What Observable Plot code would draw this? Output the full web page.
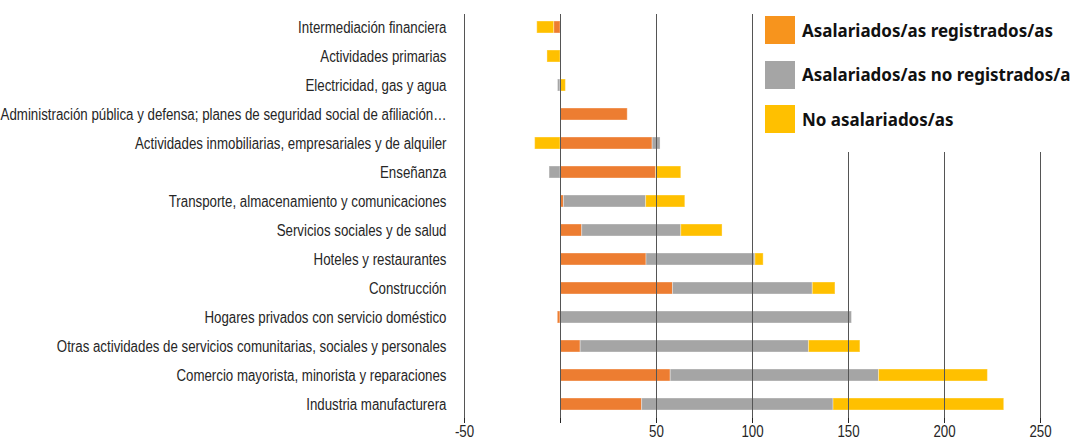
<!DOCTYPE html>
<html>
<head>
<meta charset="utf-8">
<script src="https://cdn.jsdelivr.net/npm/d3@7"></script>
<script src="https://cdn.jsdelivr.net/npm/@observablehq/plot@0.6"></script>
<style>
  html, body { margin: 0; padding: 0; background: #fff; overflow: hidden; }
  #wrap { position: relative; width: 1071px; height: 441px; }
  #legend { position: absolute; left: 755px; top: 0; width: 316px; height: 152px; background: #fff; overflow: hidden;
            font-family: "Noto Sans", sans-serif; font-weight: 700; font-size: 17px; color: #111; }
  .item { position: absolute; left: 10px; height: 28px; display: flex; align-items: center; white-space: nowrap; }
  .sw { width: 30px; height: 28px; margin-right: 7px; flex: none; }
</style>
</head>
<body>
<div id="wrap"></div>
<script>
const categories = [
  "Intermediación financiera",
  "Actividades primarias",
  "Electricidad, gas y agua",
  "Administración pública y defensa; planes de seguridad social de afiliación…",
  "Actividades inmobiliarias, empresariales y de alquiler",
  "Enseñanza",
  "Transporte, almacenamiento y comunicaciones",
  "Servicios sociales y de salud",
  "Hoteles y restaurantes",
  "Construcción",
  "Hogares privados con servicio doméstico",
  "Otras actividades de servicios comunitarias, sociales y personales",
  "Comercio mayorista, minorista y reparaciones",
  "Industria manufacturera"
];
const seriesNames = ["Asalariados/as registrados/as", "Asalariados/as no registrados/a", "No asalariados/as"];
const registrados   = [-3.3, 0,    0,   35.0, 48.0, 49.8, 1.8, 11.3, 44.8, 58.6, -1.4, 10.5, 57.4, 42.5];
const noRegistrados = [0,    0,   -1.3, 0,     4.1, -5.7, 42.8, 51.6, 56.7, 72.8, 151.8, 118.9, 108.5, 99.7];
const noAsalariados = [-8.8, -6.8, 2.8, 0,   -13.2, 13.1, 20.4, 21.5, 4.3, 11.8, 0,    26.8, 56.7, 88.9];
const xTicks = [-50, 0, 50, 100, 150, 200, 250];
const barColors = ["#ED7D31", "#A5A5A5", "#FFC000"];
const legendColors = ["#F7941D", "#A5A5A5", "#FFC000"];

const seriesValues = [registrados, noRegistrados, noAsalariados];
const data = [];
seriesNames.forEach((s, si) => categories.forEach((c, ci) => data.push({cat: c, series: s, value: seriesValues[si][ci]})));

const chart = Plot.plot({
  width: 1071,
  height: 441,
  marginLeft: 464,
  marginRight: 31,
  marginTop: 14,
  marginBottom: 23,
  style: {fontFamily: "Liberation Sans, sans-serif", fontSize: "16px", color: "#262626", background: "#fff"},
  x: {domain: [-50, 250], ticks: xTicks, tickSize: 5, tickPadding: 2, tickFormat: d => d === 0 ? "" : d, label: null},
  y: {domain: categories, paddingInner: 0.58, paddingOuter: 0.2, tickSize: 0, tickPadding: 18, label: null},
  color: {domain: seriesNames, range: barColors},
  marks: [
    Plot.barX(data, Plot.stackX({x: "value", y: "cat", fill: "series", stroke: "#fff", strokeOpacity: 0.35, strokeWidth: 1})),
    Plot.ruleX(xTicks, {stroke: "#555", strokeWidth: 1})
  ]
});
document.getElementById("wrap").appendChild(chart);

// condense the axis texts to mimic the reference's condensed typeface
const condense = 0.83;
chart.querySelectorAll("g[aria-label='y-axis tick label'] text, g[aria-label='x-axis tick label'] text").forEach(t => {
  const len = t.getComputedTextLength();
  if (len > 0) {
    t.setAttribute("textLength", (len * condense).toFixed(1));
    t.setAttribute("lengthAdjust", "spacingAndGlyphs");
  }
});

const legend = document.createElement("div");
legend.id = "legend";
seriesNames.forEach((s, i) => {
  const it = document.createElement("div");
  it.className = "item";
  it.style.top = (16 + i * 44.5) + "px";
  const sw = document.createElement("div");
  sw.className = "sw";
  sw.style.background = legendColors[i];
  it.appendChild(sw);
  const t = document.createElement("span");
  t.textContent = s;
  it.appendChild(t);
  legend.appendChild(it);
});
document.getElementById("wrap").appendChild(legend);
</script>
</body>
</html>
